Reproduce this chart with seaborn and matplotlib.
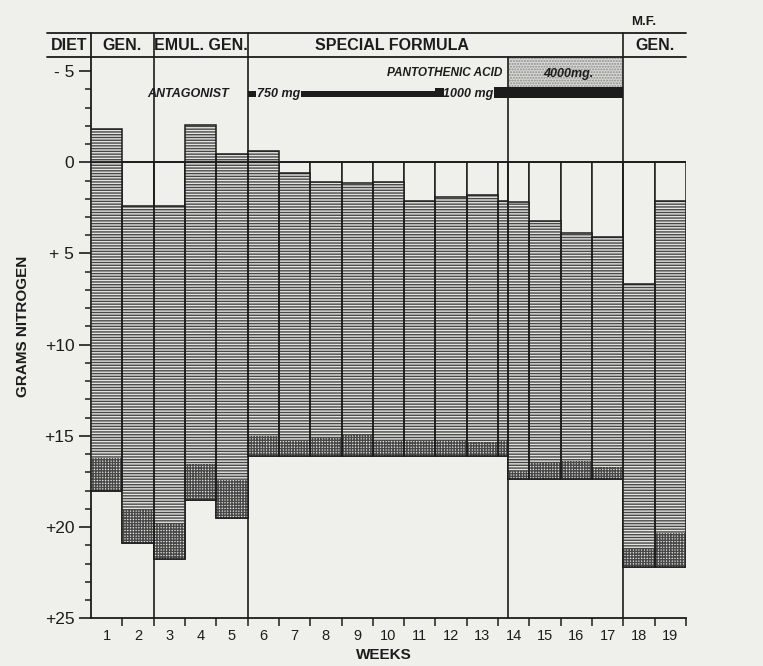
import matplotlib
matplotlib.use("Agg")
import matplotlib.pyplot as plt
from matplotlib.patches import Rectangle
import seaborn as sns

# ---- data: daily nitrogen (g) per week; week 14 is split where the 4000 mg dose starts
week_labels = [str(i) for i in range(1, 20)]
segment_week = [1, 2, 3, 4, 5, 6, 7, 8, 9, 10, 11, 12, 13, 14, 14, 15, 16, 17, 18, 19]
intake = [18.0, 20.85, 21.75, 18.5, 19.5, 16.1, 16.1, 16.1, 16.1, 16.1, 16.1, 16.1, 16.1,
          16.1, 17.35, 17.35, 17.35, 17.35, 22.2, 22.2]
fecal = [1.8, 1.85, 1.95, 1.95, 2.1, 1.1, 0.8, 1.05, 1.15, 0.8, 0.8, 0.9, 0.75,
         0.8, 0.45, 0.85, 0.95, 0.65, 1.0, 1.9]
urinary = [18.0, 16.6, 17.4, 18.6, 17.85, 15.6, 14.7, 13.95, 13.8, 14.2, 13.2, 13.3, 13.55,
           13.2, 14.7, 13.3, 12.55, 12.6, 14.5, 18.2]
dose_switch_week = 13.3          # 4000 mg begins partway through week 14

diet_labels = ["GEN.", "EMUL. GEN.", "SPECIAL FORMULA", "GEN."]
diet_bounds = [0, 2, 5, 17, 19]

dose_labels = ["750 mg", "1000 mg", "4000mg."]
dose_periods = [(5.0, 10.98), (10.98, dose_switch_week), (dose_switch_week, 17.0)]

y_major = [-5, 0, 5, 10, 15, 20, 25]
y_major_labels = ["- 5", "0", "+ 5", "+10", "+15", "+20", "+25"]

# ---- style
sns.set_theme(style="white")
plt.rcParams["font.family"] = ["Liberation Sans", "DejaVu Sans"]
plt.rcParams["hatch.linewidth"] = 1.0

paper = "#efefec"
ink = "#1c1c1c"
hatch_ink = "#484848"

fig = plt.figure(figsize=(7.63, 6.66), dpi=100, facecolor=paper)
ax = fig.add_axes([0.1193, 0.0716, 0.7798, 0.8784], facecolor=paper)

Y_TOP, Y_BOT = -7.07, 25.0
HEAD_LOW = -5.76
ax.set_xlim(0, 19)
ax.set_ylim(Y_BOT, Y_TOP)

# segment extents in week units
starts, ends = [], []
for i, w in enumerate(segment_week):
    s, e = w - 1, w
    if w == 14:
        if i + 1 < len(segment_week) and segment_week[i + 1] == 14:
            e = dose_switch_week
        else:
            s = dose_switch_week
    starts.append(s)
    ends.append(e)
widths = [e - s for s, e in zip(starts, ends)]

# intake boxes (outlined, open)
ax.bar(starts, intake, width=widths, bottom=0, align="edge",
       facecolor=paper, edgecolor=ink, linewidth=1.1, zorder=2)

# fecal nitrogen (cross-hatched) stacked up from the intake line
fecal_top = [it - f for it, f in zip(intake, fecal)]
ax.bar(starts, [-f for f in fecal], width=widths, bottom=intake, align="edge",
       facecolor="#e4e4e1", edgecolor=hatch_ink, linewidth=0, hatch="++++++", zorder=3)
# urinary nitrogen (ruled) on top of fecal
ax.bar(starts, [-u for u in urinary], width=widths, bottom=fecal_top, align="edge",
       facecolor="#e4e4e1", edgecolor=hatch_ink, linewidth=0, hatch="------", zorder=3)
# outline of the whole excretion column
excreted = [-(f + u) for f, u in zip(fecal, urinary)]
ax.bar(starts, excreted, width=widths, bottom=intake, align="edge",
       fill=False, edgecolor=ink, linewidth=1.1, zorder=4)

# zero line
ax.plot([0, 19], [0, 0], color=ink, lw=1.3, zorder=5)

# header band
for yy in (Y_TOP, HEAD_LOW):
    ax.plot([-1.4, 19], [yy, yy], color=ink, lw=1.3, clip_on=False, zorder=6)
for xb in diet_bounds[1:-1]:
    ax.plot([xb, xb], [Y_TOP, Y_BOT], color=ink, lw=1.2, clip_on=False, zorder=2.5)
ax.plot([dose_switch_week] * 2, [HEAD_LOW, Y_BOT], color=ink, lw=1.2, zorder=2.5)

head_y = (Y_TOP + HEAD_LOW) / 2
hfont = dict(fontsize=11.5, fontweight="bold", ha="center", va="center", color=ink)
ax.text(-0.7, head_y, "DIET", clip_on=False, **hfont)
head_x = [1.0, 3.5, 9.6, 18.0]
for lbl, hx in zip(diet_labels, head_x):
    ax.text(hx, head_y, lbl, **hfont)
ax.text(17.66, -7.7, "M.F.", fontsize=9.5, fontweight="bold", ha="center", va="center",
        color=ink, clip_on=False)

# antagonist dose band
afont = dict(fontstyle="italic", fontweight="bold", color=ink, va="center")
ax.text(3.1, -3.74, "ANTAGONIST", ha="center", fontsize=9, **afont)
ax.add_patch(Rectangle((5.02, -3.88), 0.26, 0.3, facecolor=ink, edgecolor="none", zorder=6))
ax.text(5.31, -3.74, dose_labels[0], ha="left", fontsize=9, **afont)
ax.add_patch(Rectangle((6.7, -3.88), dose_periods[0][1] - 6.7, 0.29,
                       facecolor=ink, edgecolor="none", zorder=6))
ax.add_patch(Rectangle((dose_periods[1][0], -4.06), 0.3, 0.48,
                       facecolor=ink, edgecolor="none", zorder=6))
ax.text(12.05, -3.74, dose_labels[1], ha="center", fontsize=9, **afont)
ax.add_patch(Rectangle((12.86, -4.11), dose_periods[2][1] - 12.86, 0.6,
                       facecolor=ink, edgecolor="none", zorder=6))
ax.add_patch(Rectangle((dose_periods[2][0], HEAD_LOW), dose_periods[2][1] - dose_periods[2][0],
                       -4.11 - HEAD_LOW, facecolor="#d9d9d6", edgecolor="#8a8a8a",
                       hatch="......", linewidth=0, zorder=1.5))
ax.text(11.3, -4.88, "PANTOTHENIC ACID", ha="center", fontsize=8.5, **afont)
ax.text(15.23, -4.84, dose_labels[2], ha="center", fontsize=9, **afont)

# axes, ticks
sns.despine(ax=ax, top=True, right=True)
for side in ("left", "bottom"):
    ax.spines[side].set_color(ink)
    ax.spines[side].set_linewidth(1.3)

ax.set_yticks(y_major)
ax.set_yticklabels(y_major_labels)
ax.set_yticks([v for v in range(-4, 25) if v % 5], minor=True)
ax.tick_params(axis="y", which="major", direction="out", length=9, width=1.2,
               color=ink, labelsize=12.5, pad=3, left=True, labelcolor=ink)
ax.tick_params(axis="y", which="minor", direction="out", length=4.5, width=1.1,
               color=ink, left=True)

ax.set_xticks(list(range(1, 20)))
ax.set_xticklabels([])
ax.set_xticks([i + 0.5 for i in range(19)], minor=True)
ax.set_xticklabels(week_labels, minor=True)
ax.tick_params(axis="x", which="major", direction="out", length=6, width=1.1,
               color=ink, bottom=True)
ax.tick_params(axis="x", which="minor", length=0, labelsize=10.5, pad=8,
               labelcolor=ink, bottom=True)
ax.grid(False)

fig.text(384 / 763, 1 - 655 / 666, "WEEKS", fontsize=11, fontweight="bold",
         ha="center", va="center", color=ink)
fig.text(23 / 763, 1 - 326 / 666, "GRAMS NITROGEN", fontsize=11, fontweight="bold",
         rotation=90, ha="center", va="center", color=ink)

fig.savefig("out.png", dpi=100, facecolor=paper)
